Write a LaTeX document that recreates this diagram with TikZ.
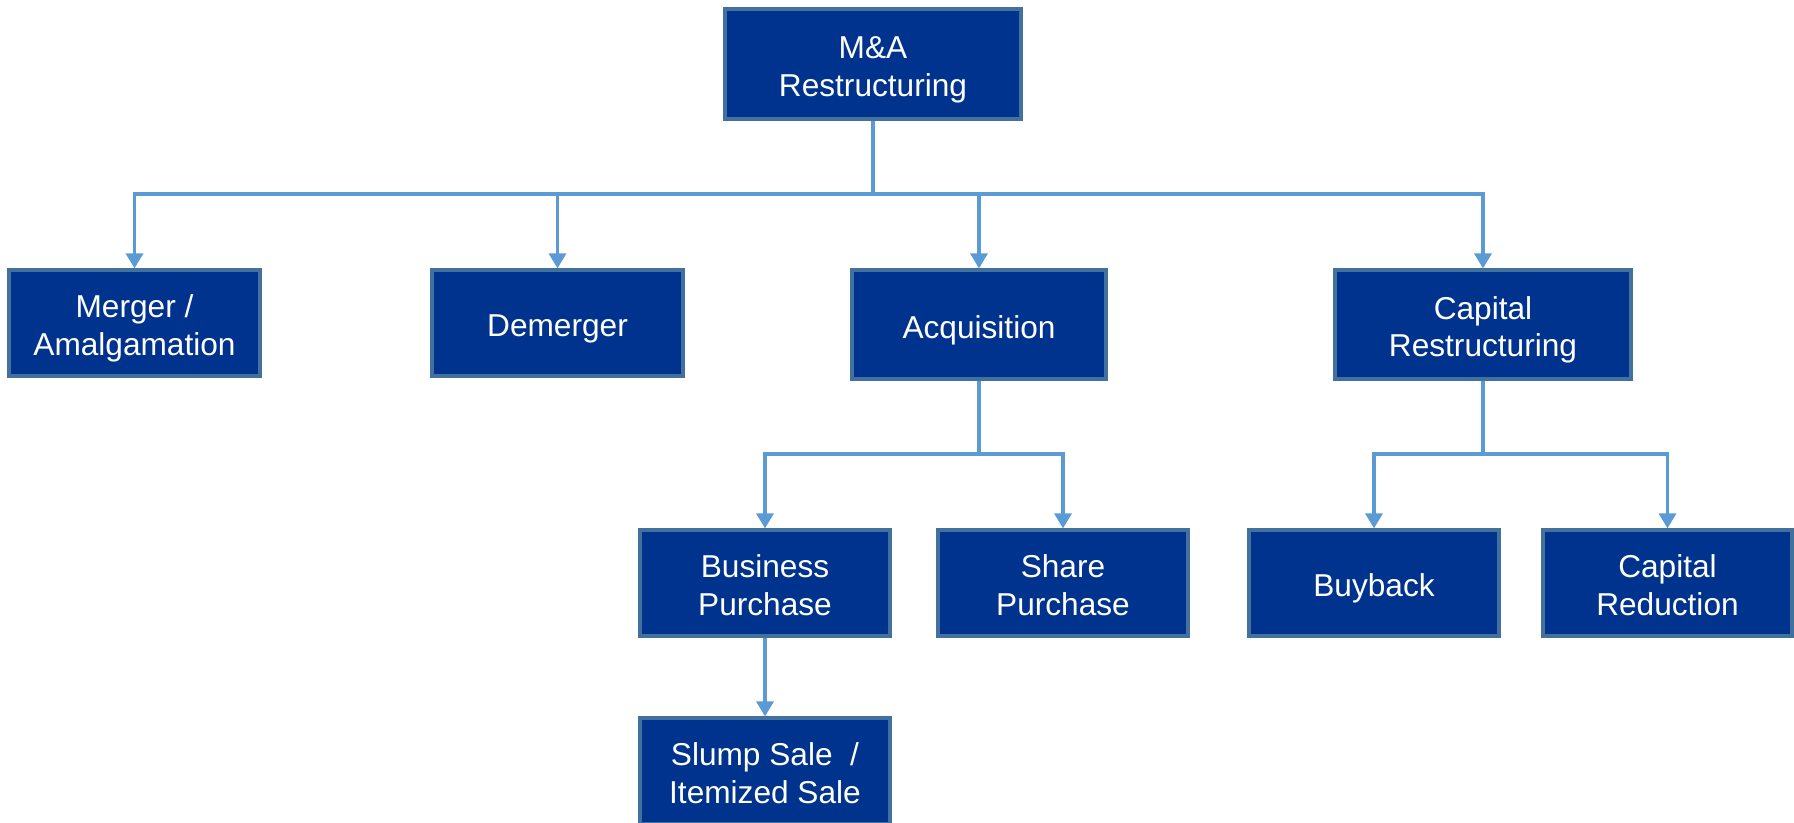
\documentclass[tikz,border=0pt]{standalone}
\usepackage{fontspec}
\setmainfont{Liberation Sans}
\usepackage{tikz}
\usetikzlibrary{arrows.meta,positioning}

\definecolor{boxfill}{RGB}{0,51,141}
\definecolor{boxedge}{RGB}{65,113,156}
\definecolor{linkcol}{RGB}{91,155,213}

% text in the boxes sits a little low
\newcommand{\orgtext}[1]{\raisebox{-0.06cm}[\height][\depth]{\begin{tabular}{@{}c@{}}#1\end{tabular}}}

\begin{document}
\begin{tikzpicture}[
	orgbox/.style={draw=boxedge,fill=boxfill,line width=0.9pt,text=white,
		minimum width=2.5cm,minimum height=1.06cm,inner sep=0pt,
		font=\fontsize{9}{10.7}\selectfont},
	feed/.style={draw=linkcol,line width=0.9pt,-{Triangle[length=0.15cm,width=0.17cm]}}
	]
	\useasboundingbox (0,0) rectangle (17.94,-8.22);
	
	% Top
	\node[orgbox,minimum width=2.96cm,minimum height=1.1cm] (root) at (8.73,-0.64) {\orgtext{M\&A\\Restructuring}};
	
	% First level
	\node[orgbox,minimum width=2.51cm] (merger) at (1.345,-3.23) {\orgtext{Merger /\\Amalgamation}};
	\node[orgbox,minimum width=2.51cm] (demerger) at (5.575,-3.23) {\orgtext{Demerger}};
	\node[orgbox,minimum width=2.54cm,minimum height=1.09cm] (acq) at (9.79,-3.245) {\orgtext{Acquisition}};
	\node[orgbox,minimum width=2.96cm,minimum height=1.09cm] (capres) at (14.83,-3.245) {\orgtext{Capital\\Restructuring}};
	
	% Second level
	\node[orgbox] (business) at (7.65,-5.83) {\orgtext{Business\\Purchase}};
	\node[orgbox] (share) at (10.63,-5.83) {\orgtext{Share\\Purchase}};
	\node[orgbox] (buyback) at (13.74,-5.83) {\orgtext{Buyback}};
	\node[orgbox,minimum width=2.49cm] (capred) at (16.675,-5.83) {\orgtext{Capital\\Reduction}};
	
	% Third level
	\node[orgbox] (slump) at (7.65,-7.71) {\orgtext{Slump Sale~ /\\Itemized Sale}};
	
	% Connectors
	\coordinate (bus) at (8.73,-1.94);
	\foreach \n in {merger,demerger,acq,capres}
		\draw[feed] (root.south) -- (bus) -| (\n.north);
	
	\coordinate (acqbus) at (9.79,-4.54);
	\foreach \n in {business,share}
		\draw[feed] (acq.south) -- (acqbus) -| (\n.north);
	
	\coordinate (capbus) at (14.83,-4.54);
	\foreach \n in {buyback,capred}
		\draw[feed] (capres.south) -- (capbus) -| (\n.north);
	
	\draw[feed] (business) -- (slump);
\end{tikzpicture}
\end{document}
